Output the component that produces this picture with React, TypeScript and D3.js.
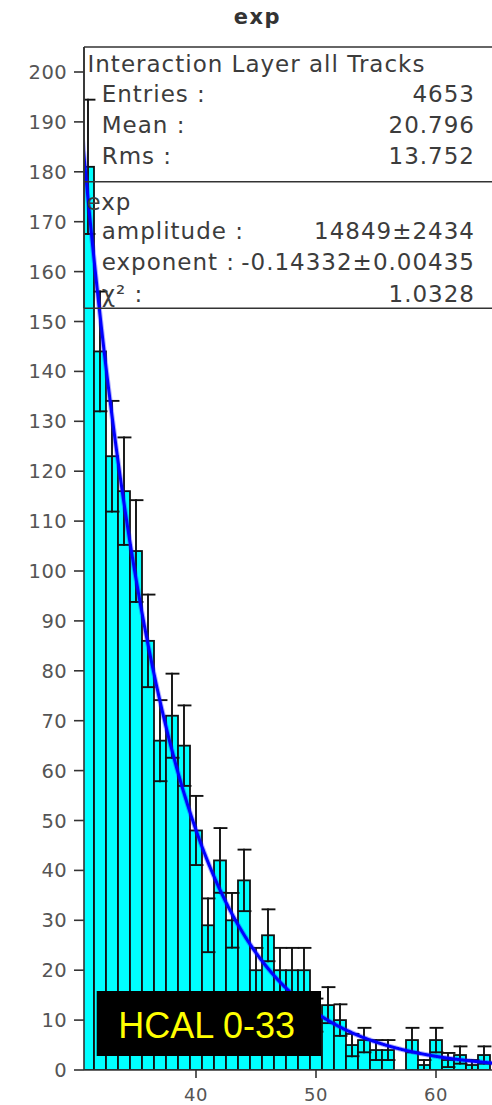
import React from "react";
import * as d3 from "d3";

const W = 492;
const H = 1105;

const binCenters = [31, 32, 33, 34, 35, 36, 37, 38, 39, 40, 41, 42, 43, 44, 45, 46, 47, 48, 49, 50, 51, 52, 53, 54, 55, 56, 57, 58, 59, 60, 61, 62, 63, 64];
const counts = [181, 144, 123, 116, 104, 86, 66, 71, 65, 48, 29, 42, 30, 38, 20, 27, 20, 20, 20, 11, 13, 10, 5, 6, 4, 4, 0, 6, 1, 6, 2, 3, 1, 3];

const yTicks = [0, 10, 20, 30, 40, 50, 60, 70, 80, 90, 100, 110, 120, 130, 140, 150, 160, 170, 180, 190, 200];
const xTicks = [40, 50, 60];

const fitAmplitude = 14849;
const fitExponent = -0.14332;

const statsTitle = "Interaction Layer all Tracks";
const statsRows = [
  ["Entries :", "4653"],
  ["Mean :", "20.796"],
  ["Rms :", "13.752"],
];
const fitTitle = "exp";
const fitRows = [
  ["amplitude :", "14849±2434"],
  ["exponent :", "-0.14332±0.00435"],
  ["χ² :", "1.0328"],
];
const chartTitle = "exp";
const labelText = "HCAL 0-33";

export default function App() {
  const x = d3.scaleLinear().domain([30.667, 64.667]).range([84, 492]);
  const y = d3.scaleLinear().domain([0, 200]).range([1070, 72]);
  const yTop = y(205);
  const x0 = x.range()[0];
  const y0 = y(0);

  const fitXs = d3.range(30.5, 64.8, 0.05);
  const line = d3
    .line<number>()
    .x((d) => x(d))
    .y((d) => y(fitAmplitude * Math.exp(fitExponent * d)));

  const statsFont = "'DejaVu Sans', Verdana, sans-serif";
  const textCol = "#3c3c3c";

  const statsRowY = [101.7, 133.3, 164];
  const fitRowY = [239.3, 270, 301.7];

  return (
    <div style={{ position: "fixed", left: 0, top: 0 }}>
      <svg width={W} height={H} style={{ display: "block", background: "#fff" }}>
        <defs>
          <clipPath id="plotclip">
            <rect x={x0} y={yTop} width={W - x0} height={y0 - yTop} />
          </clipPath>
        </defs>

        {/* title */}
        <text
          x={257.5}
          y={24}
          textAnchor="middle"
          fontFamily={statsFont}
          fontWeight="bold"
          fontSize={21}
          letterSpacing={1.5}
          fill="#333"
        >
          {chartTitle}
        </text>

        <g clipPath="url(#plotclip)">
          {binCenters.map((c, i) => {
            const v = counts[i];
            if (v <= 0) return null;
            const xl = x(c - 0.5);
            const xr = x(c + 0.5);
            return (
              <rect
                key={"b" + c}
                x={xl}
                y={y(v)}
                width={xr - xl}
                height={y0 - y(v)}
                fill="#00ffff"
                stroke="#111"
                strokeWidth={1.8}
              />
            );
          })}
          {binCenters.map((c, i) => {
            const v = counts[i];
            if (v <= 0) return null;
            const e = Math.sqrt(v);
            const xl = x(c - 0.5) + 0.5;
            const xr = x(c + 0.5) + 0.5;
            const xc = x(c);
            return (
              <g key={"e" + c} stroke="#111" strokeWidth={1.9} strokeLinecap="square">
                <line x1={xc} x2={xc} y1={y(v + e)} y2={y(Math.max(0, v - e))} />
                <line x1={xl} x2={xr} y1={y(v + e)} y2={y(v + e)} />
                <line x1={xl} x2={xr} y1={y(Math.max(0, v - e))} y2={y(Math.max(0, v - e))} />
              </g>
            );
          })}
          <path d={line(fitXs) || ""} fill="none" stroke="#1a1aff" strokeOpacity={0.35} strokeWidth={5} strokeLinejoin="round" />
          <path d={line(fitXs) || ""} fill="none" stroke="#0000ff" strokeWidth={3} strokeLinejoin="round" />
        </g>

        {/* axes */}
        <line x1={x0} x2={x0} y1={yTop} y2={y0} stroke="#333" strokeWidth={1.6} />
        <line x1={x0} x2={W} y1={y0} y2={y0} stroke="#333" strokeWidth={1.6} />
        {yTicks.map((t) => (
          <g key={"yt" + t}>
            <line x1={74} x2={x0} y1={y(t)} y2={y(t)} stroke="#333" strokeWidth={1.6} />
            <text
              x={67}
              y={y(t)}
              dy="0.36em"
              textAnchor="end"
              fontFamily={statsFont}
              fontSize={19.5}
              letterSpacing={0.4}
              fill="#555"
            >
              {t}
            </text>
          </g>
        ))}
        {xTicks.map((t) => (
          <g key={"xt" + t}>
            <line x1={x(t)} x2={x(t)} y1={y0} y2={y0 + 8} stroke="#333" strokeWidth={1.6} />
            <text
              x={x(t)}
              y={1101}
              textAnchor="middle"
              fontFamily={statsFont}
              fontSize={18}
              letterSpacing={0.5}
              fill="#555"
            >
              {t}
            </text>
          </g>
        ))}

        {/* stats box */}
        <g stroke="#333" strokeWidth={1.6} fill="none">
          <line x1={x0} x2={W} y1={yTop} y2={yTop} />
          <line x1={x0} x2={W} y1={181.7} y2={181.7} />
          <line x1={x0} x2={W} y1={308.3} y2={308.3} />
          <line x1={x0} x2={x0} y1={yTop} y2={308.3} />
        </g>
        <g fontFamily={statsFont} fontSize={23} letterSpacing={1} fill={textCol}>
          <text x={87.5} y={71.7}>{statsTitle}</text>
          {statsRows.map((r, i) => (
            <g key={"s" + i}>
              <text x={101.7} y={statsRowY[i]}>{r[0]}</text>
              <text x={475} y={statsRowY[i]} textAnchor="end">{r[1]}</text>
            </g>
          ))}
          <text x={86.5} y={210}>{fitTitle}</text>
          {fitRows.map((r, i) => (
            <g key={"f" + i}>
              <text x={101.7} y={fitRowY[i]}>{r[0]}</text>
              <text x={475} y={fitRowY[i]} textAnchor="end">{r[1]}</text>
            </g>
          ))}
        </g>

        {/* HCAL label */}
        <rect x={96.7} y={991} width={224.3} height={65} fill="#000" />
        <text
          x={118.3}
          y={1037.7}
          fontFamily="'Liberation Sans', Arial, sans-serif"
          fontSize={36}
          fill="#ffff00"
        >
          {labelText}
        </text>
      </svg>
    </div>
  );
}
